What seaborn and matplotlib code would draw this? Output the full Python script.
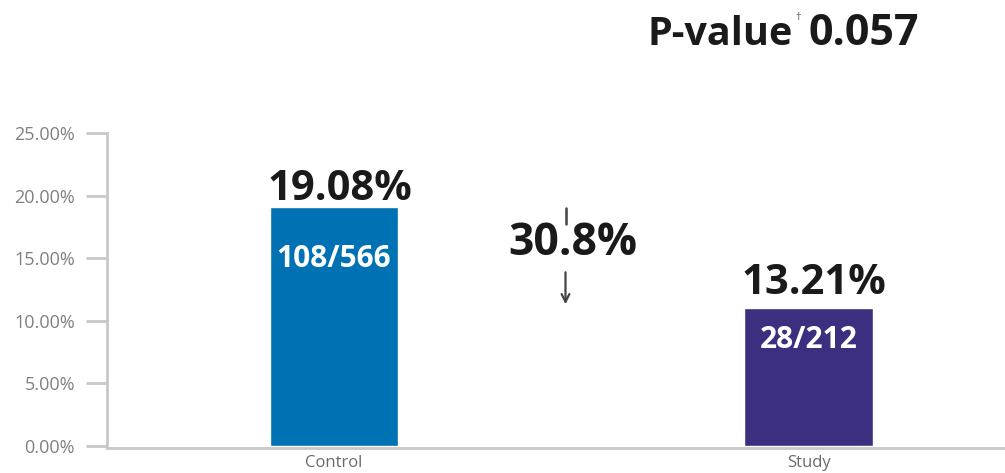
import matplotlib
matplotlib.use('Agg')
import matplotlib.pyplot as plt
import numpy as np
import pandas as pd
import seaborn as sns
from matplotlib.ticker import FuncFormatter

# data
groups = ['Control', 'Study']
bar_heights = [19.08, 11.0]          # drawn height of each bar (%)
rate_labels = ['19.08%', '13.21%']
count_labels = ['108/566', '28/212']
bar_colors = ['#0071b3', '#3c2f7f']
y_ticks = [0, 5, 10, 15, 20, 25]
reduction_label = '30.8%'
p_value = '0.057'

sns.set_style('white')
plt.rcParams['font.family'] = ['Open Sans', 'DejaVu Sans']

df = pd.DataFrame({'group': groups, 'rate': bar_heights})

fig = plt.figure(figsize=(10.05, 4.73), dpi=100)
ax = fig.add_axes([0.1065, 0.0529, 0.8935, 0.6659])

sns.barplot(data=df, x='group', y='rate', hue='group', palette=bar_colors,
            width=0.27, saturation=1, legend=False, ax=ax)

ax.set_xlim(-0.478, 1.414)
ax.set_ylim(-0.15, 25)
ax.set_yticks(y_ticks)
ax.yaxis.set_major_formatter(FuncFormatter(lambda v, p: f'{v:.2f}%'))
ax.set_xlabel('')
ax.set_ylabel('')

sns.despine(ax=ax)
for side in ['left', 'bottom']:
    ax.spines[side].set_color('#c8c8c8')
    ax.spines[side].set_linewidth(2)
ax.tick_params(axis='y', length=15, width=2, color='#c8c8c8', pad=8,
               labelsize=13, labelcolor='#808080', left=True)
ax.tick_params(axis='x', length=0, pad=5, labelsize=12, labelcolor='#6a6a6a')

# value labels above bars, counts inside bars
label_gaps = [5, 10]
count_drop = [-37, -23]
for i, (h, lab, cnt) in enumerate(zip(bar_heights, rate_labels, count_labels)):
    ax.annotate(lab, (i, h), xytext=(4, label_gaps[i]), textcoords='offset points',
                ha='center', va='baseline', fontsize=30, fontweight='bold',
                color='#1a1a1a')
    ax.annotate(cnt, (i, h), xytext=(0, count_drop[i]), textcoords='offset points',
                ha='center', va='center', fontsize=21.5, fontweight='bold',
                color='white')

# relative reduction between the bars
mid = 0.5
ax.text(mid + 0.003, 16.2, reduction_label, ha='center', va='center', fontsize=32,
        fontweight='bold', color='#1a1a1a')
ax.plot([mid - 0.012, mid - 0.012], [17.7, 19.0], color='#444444', lw=1.8)
ax.annotate('', xy=(mid - 0.012, 11.1), xytext=(mid - 0.012, 14.1),
            arrowprops=dict(arrowstyle='->', color='#444444', lw=1.6,
                            mutation_scale=14))

# p-value header
fig.text(0.789, 0.905, 'P-value', ha='right', va='baseline', fontsize=28.5,
         fontweight='bold', color='#1a1a1a')
fig.text(0.794, 0.957, '\u2020', ha='center', va='baseline', fontsize=8,
         color='#555555')
fig.text(0.804, 0.905, p_value, ha='left', va='baseline', fontsize=31,
         fontweight='bold', color='#1a1a1a')

fig.savefig('out.png', dpi=100)
